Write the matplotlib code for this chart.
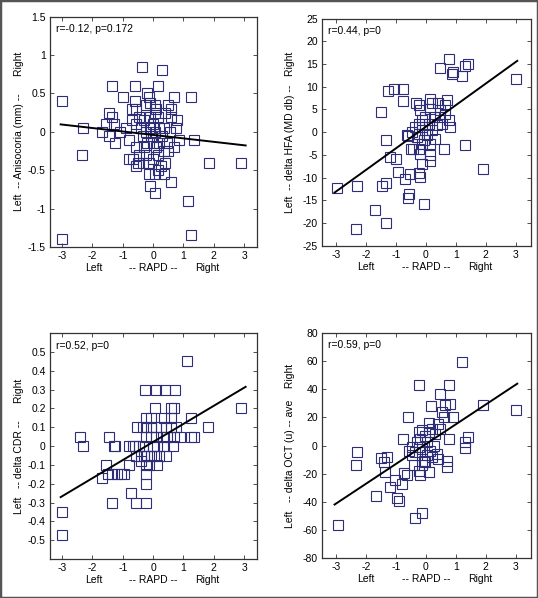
import numpy as np
import matplotlib.pyplot as plt
from matplotlib.patches import Rectangle

plt.rcParams['font.family'] = ['Liberation Sans', 'DejaVu Sans']
plt.rcParams['axes.unicode_minus'] = False

# panel 1: anisocoria
x1 = [-3, -3, -2.3, -2.35, -1.7, -1.45, -1.35, -1.55, -1.45, -1.3, -1.25, -1.35, -1.1, -1.0,
      -0.9, -0.8, -0.7, -0.6, -0.6, -0.55, -0.8, -0.65, -0.55, -0.5, -0.7, -0.55, -0.38, -0.2,
      -0.15, -0.25, -0.3, -0.4, -0.35, -0.3, -0.22, -0.15, -0.15, -0.1, 0.05, 0.05, 0.15, 0.35,
      0.15, 0.3, 0.05, 0.1, 0.15, 0.0, -0.1, -0.08, -0.2, 0.0, 0.1, 0.2, 0.3, 0.35, 0.5, 0.6,
      0.4, 0.6, 0.7, 0.75, 0.8, 0.85, 0.4, 0.6, 0.5, 0.35, 1.25, 1.35, 1.15, 1.25, 1.83, 2.9,
      -0.45, -0.55, -0.45, -0.35, -0.25, -0.1, -0.12, 0.05, 0.05, 0.2, 0.15, 0.0, 0.25, 0.45,
      0.55, 0.7]
y1 = [0.4, -1.4, 0.05, -0.3, 0.0, 0.25, 0.2, 0.1, -0.05, 0.1, -0.15, 0.6, 0.0, 0.45,
      0.05, -0.1, 0.3, 0.6, 0.4, 0.3, -0.35, -0.35, -0.45, -0.4, 0.15, 0.1, 0.85, 0.5,
      0.45, 0.35, 0.15, 0.05, -0.05, -0.2, -0.3, -0.4, -0.55, -0.7, -0.8, -0.55, -0.5, -0.55,
      0.6, 0.8, 0.35, 0.3, 0.2, 0.1, 0.05, -0.05, -0.15, -0.15, -0.2, -0.15, -0.05, 0.05, 0.35, 0.3,
      0.25, 0.2, 0.45, 0.05, 0.15, -0.1, -0.4, -0.65, -0.25, -0.25, 0.45, -0.1, -0.9, -1.35, -0.4, -0.4,
      0.2, -0.2, -0.3, -0.4, 0.0, 0.2, 0.38, 0.25, 0.0, 0.05, -0.3, -0.35, -0.45, -0.15,
      0.0, -0.2]

# panel 2: delta HFA
x2 = [-2.97, -2.3, -1.7, -2.33, -1.32, -1.47, -1.32, -1.49, -1.32, -1.2, -1.0, -1.28, -1.08, -0.77,
      -0.77, -0.93, -0.71, -0.52, -0.6, -0.55, -0.24, -0.21, -0.08, -0.49, -0.44, -0.63, -0.61, -0.24,
      -0.19, -0.13, 0.12, 0.12, 0.59, 1.31, 1.9, 3.01, 0.76, 0.48, 0.9, 0.87, 1.2, 1.31, 1.42,
      -0.32, -0.24, -0.19, 0.14, 0.2, 0.42, 0.7, 0.64, 0.76, 0.81, 0.64, 0.48, 0.37, 0.2, 0.09,
      -0.02, -0.13, -0.24, -0.3, -0.08, 0.03, 0.14, 0.31, -0.36, -0.47, -0.13, -0.02, 0.26, 0.14,
      0.48, -0.13, -0.24, 0.53]
y2 = [-12.3, -11.8, -17.2, -21.3, -20, -11.9, -11.2, 4.5, -1.8, -5.4, -6, 9.1, 9.6, 9.6,
      6.9, -8.7, -10.4, -9.3, -14.5, -13.7, -8.9, -9.8, -15.9, -3.6, -3.8, -0.7, -0.9, -3.6,
      -4.7, -6.9, -5.1, -6.3, -3.6, -2.9, -8.1, 11.7, 16.1, 14.2, 13.3, 12.8, 12.3, 14.6, 15.1,
      6.5, 5.9, 4.8, 7.4, 6.5, 6.5, 7, 5.9, 2.6, 1.2, 4.1, 3.4, 1.5, 0.4, 1.9,
      3.4, 1.2, -0.3, -1, -1.8, -0.7, -2.5, -1.4, 1.2, 0.1, 2.6, 0.4, 3.4, 5.2,
      4.8, -2.5, 1.9, 1.9]

# panel 3: delta CDR
x3 = [-3, -3, -2.4, -2.3, -1.45, -1.3, -1.25, -1.55, -1.7, -1.5, -1.35, -1.2, -1.07, -0.95,
      -1.35, -0.8, -0.8, -0.74, -0.57, -0.22, -0.22, -0.22, -0.6, -0.45, -0.35, -0.55, -0.4, -0.3,
      -0.2, -0.08, 0.03, 0.2, 0.42, -0.4, -0.24, -0.13, 0.14, -0.52, -0.35, -0.24, -0.08, 0.09,
      0.25, 0.42, 0.58, 0.75, -0.24, -0.08, 0.09, 0.31, 0.47, 0.69, 0.88, 1.24, 1.35, 1.82,
      2.91, 1.24, 1.13, -0.26, 0.11, 0.4, 0.71, 0.07, 0.58, 0.69, -0.24, -0.08, 0.36, 0.58,
      -0.02, 0.14, 0.36, 0.66, -0.68]
y3 = [-0.35, -0.47, 0.05, 0, 0.05, 0, 0, -0.1, -0.17, -0.15, -0.15, -0.15, -0.15, -0.15,
      -0.3, -0.1, 0, -0.25, -0.3, -0.3, -0.2, -0.15, 0, 0, 0, -0.05, -0.05, -0.05,
      -0.05, -0.05, -0.05, -0.05, -0.05, -0.08, -0.1, -0.1, -0.1, 0.1, 0.1, 0.1, 0.1, 0.1,
      0.1, 0.1, 0.1, 0.1, 0.05, 0.05, 0.05, 0.05, 0.05, 0.05, 0.05, 0.05, 0.05, 0.1,
      0.2, 0.15, 0.45, 0.3, 0.3, 0.3, 0.3, 0.2, 0.2, 0.2, 0.15, 0.15, 0.15, 0.15,
      0, 0, 0, 0, 0]

# panel 4: delta OCT
x4 = [-2.94, -2.3, -2.32, -1.67, -1.49, -1.41, -1.3, -1.36, -1.19, -1.04, -0.97, -0.91, -0.8, -0.74,
      -0.63, -0.78, -0.6, -0.38, -0.13, -0.24, 0.18, 0.11, 0.46, 0.76, 1.2, 0.92, 0.64, 0.81,
      0.53, 0.59, 1.89, 3.0, 1.31, 1.31, 1.4, 0.76, 0.7, 0.7, 0.42, 0.09, -0.19, -0.24,
      -0.13, -0.08, -0.58, -0.47, -0.36, -0.3, -0.24, -0.13, -0.02, 0.09, 0.2, 0.31, 0.42, 0.48,
      0.26, 0.14, 0.37, 0.03, -0.13, -0.24, 0.03, -0.19, -0.47, 0.2, -0.02, -0.41]
y4 = [-56.4, -4.3, -14.2, -36, -9, -11.4, -8.3, -19, -29.6, -24.4, -37.4, -39.8, -27.5, -19.4,
      -21.3, 4.7, 20.6, -51.4, -47.9, 43.4, 28, 16.1, 36.7, 43.1, 59.2, 20.6, 28.9, 29.6,
      23.7, 20.1, 29.1, 25.6, 2.8, -1.9, 5.9, 4.7, -10.7, -15.4, -9.5, -19, -21.3, -17.8,
      -14.2, -10.7, -3.6, -7.1, -4.7, 2.4, 9.5, 10.7, 7.1, 9.5, 11.8, 8.3, 15.4, 11.8,
      0, -3.6, -5.9, -7.1, -2.4, -1.2, 2.4, 4.7, -1.2, -8.3, -11.8, -14.2]

# regression lines (slope, intercept)
fits = [(-0.045, -0.04), (4.75, 1.2), (0.096, 0.022), (14.1, 1.0)]
stats = ["r=-0.12, p=0.172", "r=0.44, p=0", "r=0.52, p=0", "r=0.59, p=0"]
ylabels = ["Left  -- Anisocoria (mm) --      Right",
           "Left  -- delta HFA (MD db) --   Right",
           "Left   -- delta CDR --      Right",
           "Left   -- delta OCT (u) -- ave    Right"]
ylims = [(-1.5, 1.5), (-25, 25), (-0.6, 0.6), (-80, 80)]
yticks = [[-1.5, -1, -0.5, 0, 0.5, 1, 1.5],
          [-25, -20, -15, -10, -5, 0, 5, 10, 15, 20, 25],
          [-0.5, -0.4, -0.3, -0.2, -0.1, 0, 0.1, 0.2, 0.3, 0.4, 0.5],
          [-80, -60, -40, -20, 0, 20, 40, 60, 80]]
xticks = [-3, -2, -1, 0, 1, 2, 3]
xlims = [(-3.4, 3.43), (-3.47, 3.5), (-3.4, 3.43), (-3.47, 3.5)]
xs = [x1, x2, x3, x4]
ys = [y1, y2, y3, y4]

fig = plt.figure(figsize=(5.38, 5.98), dpi=100)
positions = [[0.093, 0.587, 0.385, 0.385], [0.5985, 0.589, 0.388, 0.38],
             [0.093, 0.065, 0.385, 0.378], [0.5985, 0.067, 0.388, 0.376]]

for i in range(4):
    ax = fig.add_axes(positions[i])
    ax.plot(xs[i], ys[i], 's', ms=7, mfc='none', mec='#2e2e78', mew=0.8)
    lx = np.array([-3.05, 3.05])
    ax.plot(lx, fits[i][0] * lx + fits[i][1], color='black', lw=1.4)
    ax.set_xlim(*xlims[i])
    ax.set_ylim(*ylims[i])
    ax.set_xticks(xticks)
    ax.set_yticks(yticks[i])
    ax.set_xticklabels(['%g' % t for t in xticks])
    ax.set_yticklabels(['%g' % t for t in yticks[i]])
    ax.tick_params(direction='in', top=True, right=True, length=3, width=0.6,
                   labelsize=7.5, pad=3, color='#333333')
    for s in ax.spines.values():
        s.set_linewidth(0.9)
        s.set_color('#333333')
    ax.text(0.03, 0.945, stats[i], transform=ax.transAxes, fontsize=7.5, va='center')
    ax.set_ylabel(ylabels[i], fontsize=7.5)
    ax.yaxis.set_label_coords(-0.127, 0.5)
    for fx, t in [(0.21, 'Left'), (0.50, '-- RAPD --'), (0.76, 'Right')]:
        ax.annotate(t, xy=(fx, 0), xycoords='axes fraction', xytext=(0, -15),
                    textcoords='offset points', ha='center', va='center', fontsize=7.5)

fig.add_artist(Rectangle((0, 0), 1, 1, transform=fig.transFigure, fill=False,
                         edgecolor='#555555', lw=2.5))

fig.savefig('out.png', dpi=100)
